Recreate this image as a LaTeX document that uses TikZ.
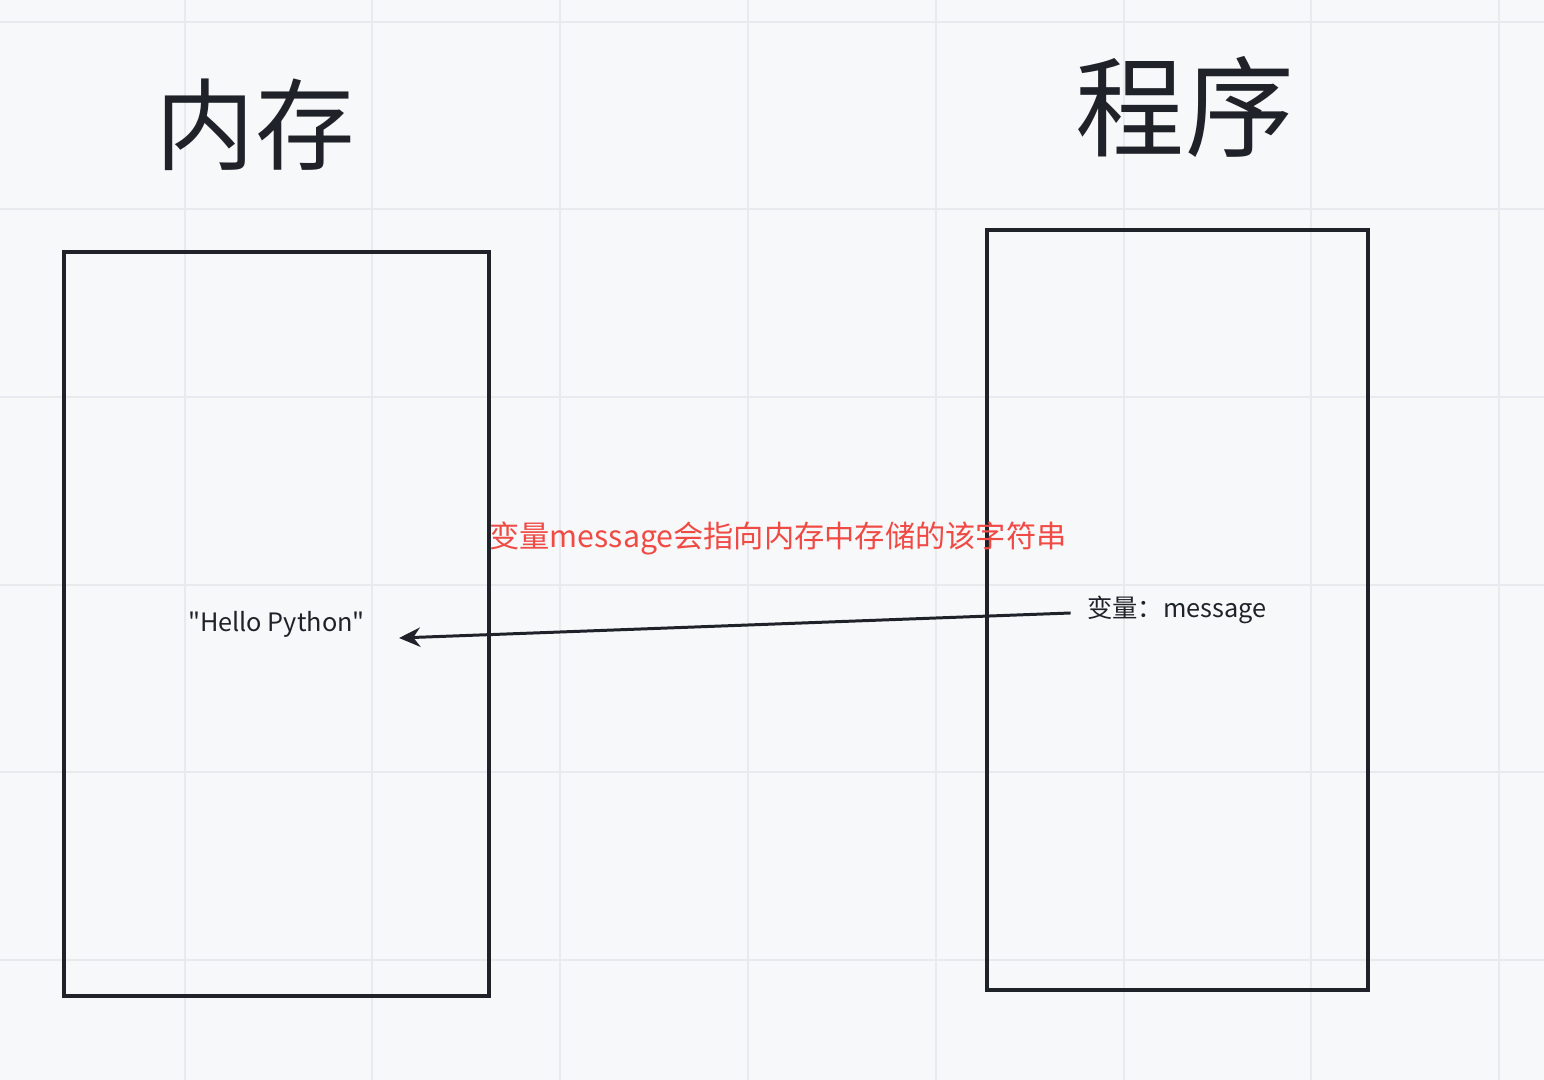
\documentclass[tikz,border=0pt]{standalone}
\usepackage{fontspec}
\setmainfont{Noto Sans CJK SC}
\newfontfamily\plaincjk{Noto Sans CJK SC}
\usepackage{xcolor}
\usepackage{tikz}
\usetikzlibrary{arrows.meta, positioning, calc}
\definecolor{mydark}{RGB}{31,35,41}
\definecolor{myred}{RGB}{240,74,69}
\definecolor{mybg}{RGB}{247,248,250}
\definecolor{mygrid}{RGB}{232,234,237}
\tikzset{
  membox/.style={rectangle, draw=mydark, inner sep=0pt, outer sep=0pt,
    line width=1.05pt},
  title/.style={color=mydark, inner sep=0pt},
  label/.style={font=\plaincjk\fontsize{7.2}{9}\selectfont, color=mydark, inner sep=0pt},
  note/.style={font=\fontsize{8.6}{10}\selectfont, color=myred, inner sep=0pt},
  arrow/.style={-{Stealth[length=6pt, width=5.5pt]}, line width=0.85pt, color=mydark},
  gridline/.style={line width=0.35pt, color=mygrid}
}

\begin{document}
\begin{tikzpicture}[x=0.01cm, y=-0.01cm]

  % Canvas
  \fill[mybg] (0,0) rectangle (1544,1080);
  \useasboundingbox (0,0) rectangle (1544,1080);
  \foreach \gx in {185,372,560,748,936,1124,1311,1499}
    \draw[gridline] (\gx,0) -- (\gx,1080);
  \foreach \gy in {22,209,397,585,772,960}
    \draw[gridline] (0,\gy) -- (1544,\gy);

  % Boxes
  \node[membox, minimum width=4.25cm, minimum height=7.44cm] (mem) at (276.5,624) {};
  \node[membox, minimum width=3.81cm, minimum height=7.60cm] (prog) at (1177.5,610) {};

  % Titles
  \node[title, font=\fontsize{28.3}{32}\selectfont] (memtitle) at (255,125) {内存};
  \node[title, font=\fontsize{31}{35}\selectfont] (progtitle) at (1185,107) {程序};

  % Contents
  \node[label] (hello) at (mem.center) {"Hello Python"};
  \node[label] (var) at (1177,610) {变量：message};
  \node[note] (explain) at (778,538) {变量message会指向内存中存储的该字符串};

  % Pointer
  \coordinate (source) at ([xshift=-0.16cm, yshift=-0.03cm]var.west);
  \coordinate (target) at ([xshift=1.225cm, yshift=-0.14cm]mem.center);
  \draw[arrow] (source) -- (target);
\end{tikzpicture}
\end{document}
